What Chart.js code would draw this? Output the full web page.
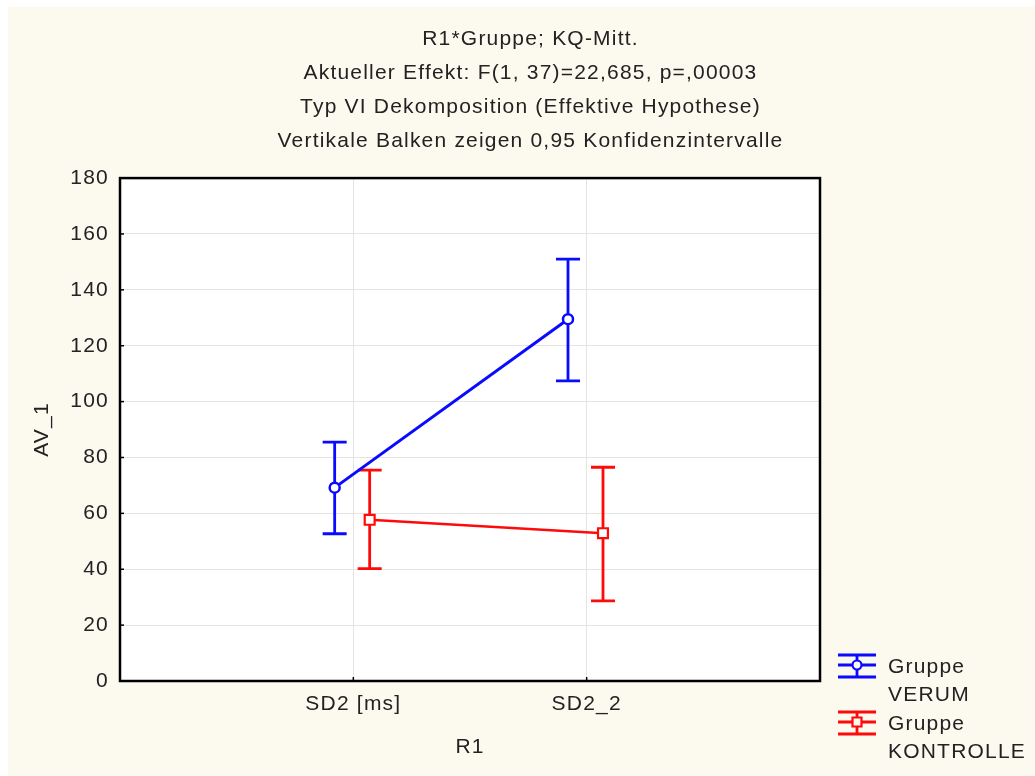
<!DOCTYPE html>
<html>
<head>
<meta charset="utf-8">
<script src="https://cdn.jsdelivr.net/npm/chart.js@4.4.1/dist/chart.umd.min.js"></script>
<style>
  html, body { margin: 0; padding: 0; background: #ffffff; }
  #wrap { position: absolute; left: 8px; top: 7px; width: 1027px; height: 769px; background: #fcf9ef; }
</style>
</head>
<body>
<div id="wrap"><canvas id="chart" width="1027" height="769"></canvas></div>
<script>
// Interaction plot: R1 x Gruppe, means with 0.95 confidence intervals

const categories = ['SD2 [ms]', 'SD2_2'];
const yTicks = [0, 20, 40, 60, 80, 100, 120, 140, 160, 180];

const verumMean = [69.2, 129.5];
const verumLow = [52.7, 107.4];
const verumHigh = [85.5, 151.0];

const kontrolleMean = [57.7, 52.9];
const kontrolleLow = [40.2, 28.7];
const kontrolleHigh = [75.5, 76.5];

const titleLines = [
    'R1*Gruppe; KQ-Mitt.',
    'Aktueller Effekt: F(1, 37)=22,685, p=,00003',
    'Typ VI Dekomposition (Effektive Hypothese)',
    'Vertikale Balken zeigen 0,95 Konfidenzintervalle'
];

const FONT = 'Arial, "Liberation Sans", sans-serif';
const TEXT = '#222222';

function buildPoints(means, lows, highs, shift) {
    return means.map((m, i) => ({ x: i + 1 + shift, y: m, lo: lows[i], hi: highs[i] }));
}

// the old plot uses slightly spaced lettering, and a white plot area
const spacing = {
    id: 'spacing',
    beforeInit(chart) { chart.ctx.letterSpacing = '1.2px'; },
    beforeUpdate(chart) { chart.ctx.letterSpacing = '1.2px'; },
    beforeDraw(chart) {
        const ctx = chart.ctx;
        const a = chart.chartArea;
        ctx.letterSpacing = '1.2px';
        ctx.save();
        ctx.fillStyle = '#ffffff';
        ctx.fillRect(a.left, a.top, a.right - a.left, a.bottom - a.top);
        ctx.restore();
    }
};

// error bars, frame, ticks and the legend are drawn with the chart's scales
const extras = {
    id: 'extras',
    beforeDatasetsDraw(chart) {
        const ctx = chart.ctx;
        const xs = chart.scales.x, ys = chart.scales.y;
        chart.data.datasets.forEach(ds => {
            ctx.save();
            ctx.strokeStyle = ds.borderColor;
            ctx.lineWidth = 2.8;
            ds.data.forEach(p => {
                const x = xs.getPixelForValue(p.x);
                const yl = ys.getPixelForValue(p.lo);
                const yh = ys.getPixelForValue(p.hi);
                ctx.beginPath();
                ctx.moveTo(x, yl); ctx.lineTo(x, yh);
                ctx.moveTo(x - 12, yl); ctx.lineTo(x + 12, yl);
                ctx.moveTo(x - 12, yh); ctx.lineTo(x + 12, yh);
                ctx.stroke();
            });
            ctx.restore();
        });
    },
    afterDraw(chart) {
        const ctx = chart.ctx;
        const a = chart.chartArea;
        const xs = chart.scales.x, ys = chart.scales.y;
        ctx.save();
        ctx.strokeStyle = '#000';
        ctx.lineWidth = 1.5;
        ys.ticks.forEach(t => {
            const y = ys.getPixelForValue(t.value);
            ctx.beginPath(); ctx.moveTo(a.left, y); ctx.lineTo(a.left + 4, y); ctx.stroke();
        });
        xs.ticks.forEach(t => {
            const x = xs.getPixelForValue(t.value);
            ctx.beginPath(); ctx.moveTo(x, a.bottom); ctx.lineTo(x, a.bottom - 4); ctx.stroke();
        });
        ctx.lineWidth = 2.5;
        ctx.strokeRect(a.left, a.top, a.right - a.left, a.bottom - a.top);

        // legend
        const lx = a.right + 18;
        ctx.font = '21px ' + FONT;
        ctx.textBaseline = 'middle';
        ctx.textAlign = 'left';
        chart.data.datasets.forEach((ds, i) => {
            const cy = a.bottom - 16 + i * 57;
            ctx.strokeStyle = ds.borderColor;
            ctx.lineWidth = 2.8;
            ctx.beginPath();
            ctx.moveTo(lx, cy - 10); ctx.lineTo(lx + 38, cy - 10);
            ctx.moveTo(lx, cy); ctx.lineTo(lx + 38, cy);
            ctx.moveTo(lx, cy + 12); ctx.lineTo(lx + 38, cy + 12);
            ctx.moveTo(lx + 19, cy - 10); ctx.lineTo(lx + 19, cy + 12);
            ctx.stroke();
            ctx.fillStyle = '#fcf9ef';
            ctx.lineWidth = 2.2;
            ctx.beginPath();
            if (ds.pointStyle === 'rect') {
                ctx.rect(lx + 14.5, cy - 4.5, 9, 9);
            } else {
                ctx.arc(lx + 19, cy, 4.5, 0, Math.PI * 2);
            }
            ctx.fill(); ctx.stroke();
            ctx.fillStyle = TEXT;
            ds.legendText.forEach((s, j) => ctx.fillText(s, lx + 50, cy + 2 + j * 28));
        });
        ctx.restore();
    }
};

new Chart(document.getElementById('chart'), {
    type: 'line',
    data: {
        datasets: [{
            label: 'Gruppe VERUM',
            legendText: ['Gruppe', 'VERUM'],
            data: buildPoints(verumMean, verumLow, verumHigh, -0.08),
            borderColor: '#0a0aff',
            backgroundColor: '#ffffff',
            borderWidth: 3,
            pointStyle: 'circle',
            pointRadius: 5,
            pointBorderWidth: 2.5,
            tension: 0
        }, {
            label: 'Gruppe KONTROLLE',
            legendText: ['Gruppe', 'KONTROLLE'],
            data: buildPoints(kontrolleMean, kontrolleLow, kontrolleHigh, 0.07),
            borderColor: '#ff0a0a',
            backgroundColor: '#ffffff',
            borderWidth: 2.5,
            pointStyle: 'rect',
            pointRadius: 7,
            pointBorderWidth: 2.2,
            tension: 0
        }]
    },
    options: {
        responsive: false,
        animation: false,
        events: [],
        layout: { padding: { left: 18, right: 0, top: 0, bottom: 12 } },
        plugins: {
            legend: { display: false },
            tooltip: { enabled: false },
            title: {
                display: true,
                text: titleLines,
                color: TEXT,
                font: { family: FONT, size: 21, weight: 'normal', lineHeight: 1.62 },
                padding: { top: 15, bottom: 20 }
            }
        },
        scales: {
            x: {
                type: 'linear',
                min: 0,
                max: 3,
                afterBuildTicks: s => { s.ticks = categories.map((c, i) => ({ value: i + 1 })); },
                afterFit: s => { s.height = 83; },
                ticks: {
                    callback: v => categories[v - 1],
                    color: TEXT,
                    font: { family: FONT, size: 21 },
                    padding: 11,
                    maxRotation: 0
                },
                grid: { color: '#e4e4e4', lineWidth: 1, drawTicks: false },
                border: { display: false },
                title: { display: true, text: 'R1', color: TEXT, font: { family: FONT, size: 21 } }
            },
            y: {
                min: 0,
                max: 180,
                afterBuildTicks: s => { s.ticks = yTicks.map(v => ({ value: v })); },
                afterFit: s => { s.width = 94; },
                ticks: {
                    color: TEXT,
                    font: { family: FONT, size: 21 },
                    padding: 11
                },
                grid: { color: '#e4e4e4', lineWidth: 1, drawTicks: false },
                border: { display: false },
                title: { display: true, text: 'AV_1', color: TEXT, font: { family: FONT, size: 21 } }
            },
            // empty right-hand strip that leaves room for the legend
            side: {
                type: 'linear',
                position: 'right',
                min: 0,
                max: 1,
                afterFit: s => { s.width = 215; },
                ticks: { display: false },
                grid: { display: false, drawTicks: false },
                border: { display: false }
            }
        }
    },
    plugins: [spacing, extras]
});
</script>
</body>
</html>
